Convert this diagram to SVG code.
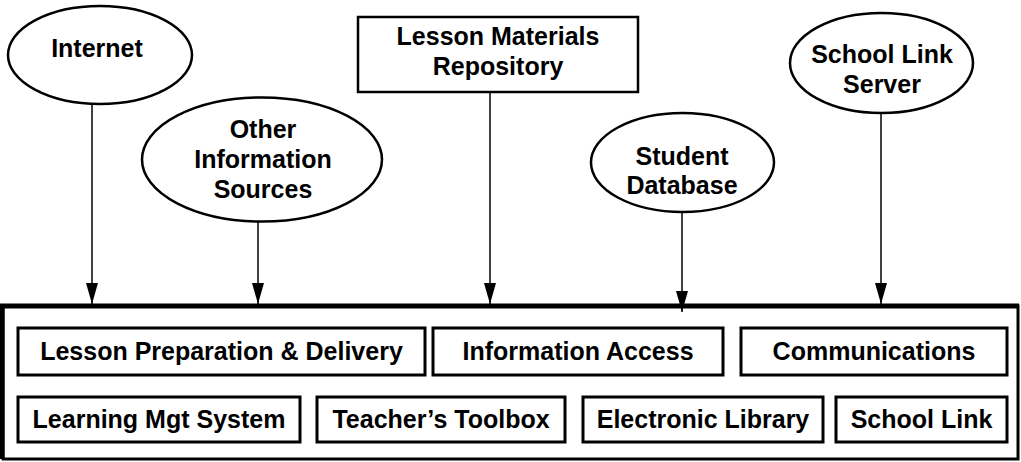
<svg xmlns="http://www.w3.org/2000/svg" width="1021" height="462" viewBox="0 0 1021 462">
<style>
text{font-family:"Liberation Sans",Arial,sans-serif;font-weight:bold;font-size:25px;fill:#000;text-anchor:middle}
.src{fill:#fff;stroke:#000;stroke-width:2.5}
.box{fill:#fff;stroke:#000;stroke-width:3}
.con{stroke:#000;stroke-width:1.5;fill:none;marker-end:url(#arr)}
</style>
<defs>
<marker id="arr" markerUnits="userSpaceOnUse" markerWidth="22" markerHeight="14" refX="21" refY="6" orient="auto" viewBox="0 0 22 12">
<path d="M0,0 L21,6 L0,12 Z" fill="#000"/>
</marker>
</defs>
<g id="internet">
<ellipse class="src" cx="100" cy="55" rx="92" ry="49"/>
<text x="97" y="57">Internet</text>
</g>
<g id="other-info">
<ellipse class="src" cx="262" cy="159.5" rx="120" ry="62"/>
<text x="263" y="138">Other</text>
<text x="263" y="168">Information</text>
<text x="263" y="198">Sources</text>
</g>
<g id="lesson-repo">
<rect class="src" x="358" y="17" width="280" height="75"/>
<text x="498" y="45">Lesson Materials</text>
<text x="498" y="75">Repository</text>
</g>
<g id="student-db">
<ellipse class="src" cx="682.5" cy="162.5" rx="91.5" ry="49.5"/>
<text x="682" y="165">Student</text>
<text x="682" y="194">Database</text>
</g>
<g id="school-link-server">
<ellipse class="src" cx="881.5" cy="63" rx="91.5" ry="50"/>
<text x="882" y="63">School Link</text>
<text x="882" y="93">Server</text>
</g>
<g id="system">
<rect x="3" y="306" width="1015" height="153" fill="#fff" stroke="#000" stroke-width="3"/>
<path d="M2,459 V306 H1019" fill="none" stroke="#000" stroke-width="5"/>
</g>
<g id="lesson-prep">
<rect class="box" x="18" y="328" width="407" height="47"/>
<text x="221.5" y="360">Lesson Preparation &amp; Delivery</text>
</g>
<g id="info-access">
<rect class="box" x="433" y="328" width="290" height="47"/>
<text x="578" y="360">Information Access</text>
</g>
<g id="communications">
<rect class="box" x="741" y="328" width="266" height="47"/>
<text x="874" y="360">Communications</text>
</g>
<g id="lms">
<rect class="box" x="18" y="397" width="282" height="45"/>
<text x="159" y="428">Learning Mgt System</text>
</g>
<g id="toolbox">
<rect class="box" x="317" y="397" width="248" height="45"/>
<text x="441" y="428">Teacher’s Toolbox</text>
</g>
<g id="library">
<rect class="box" x="583" y="397" width="240" height="45"/>
<text x="703" y="428">Electronic Library</text>
</g>
<g id="school-link">
<rect class="box" x="836" y="397" width="171" height="45"/>
<text x="921.5" y="428">School Link</text>
</g>
<g id="connectors">
<path class="con" d="M92,104 V304"/>
<path class="con" d="M258,222 V304"/>
<path class="con" d="M490,92 V304"/>
<path class="con" d="M682,212 V312"/>
<path class="con" d="M881,113 V304"/>
</g>
</svg>
